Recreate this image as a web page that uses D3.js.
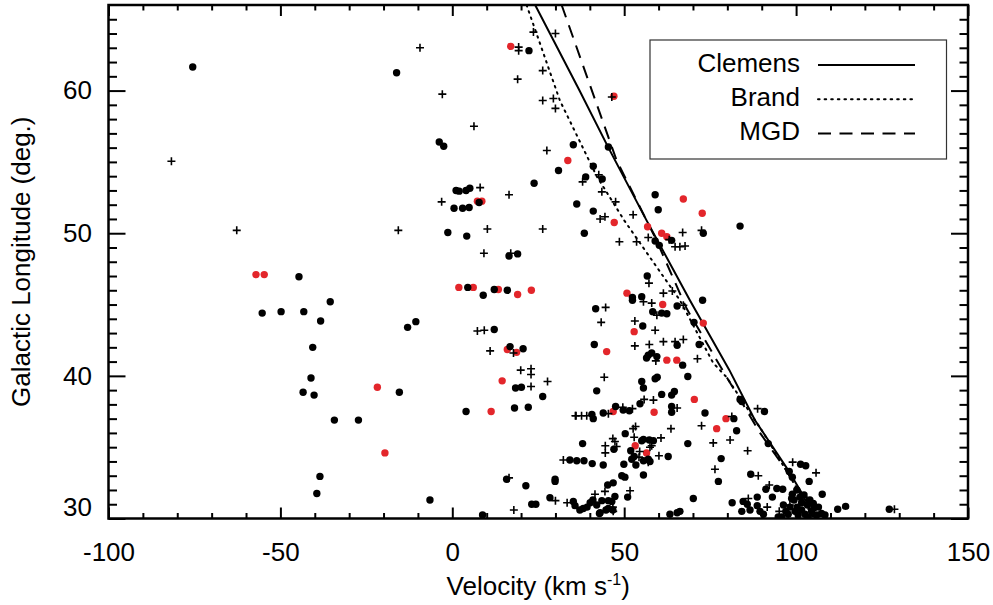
<!DOCTYPE html>
<html lang="en">
<head>
    <meta charset="UTF-8">
    <title>Velocity vs Galactic Longitude</title>
    <style>
        body {
            margin: 0;
            background: #fff;
        }
        svg text {
            font-family: "Liberation Sans", Arial, sans-serif;
            fill: #000;
        }
        .axis text {
            font-size: 26px;
        }
        .axis line {
            stroke: #000;
            stroke-width: 2;
        }
        .axis path {
            display: none;
        }
    </style>
</head>
<body>
    <div id="chart"></div>

    <script src="https://d3js.org/d3.v7.min.js"></script>
    <script>
        // axis ticks
        const xMajor = [-100, -50, 0, 50, 100, 150];
        const xMinor = d3.range(-90, 150, 10).filter(v => v % 50 !== 0);
        const yMajor = [30, 40, 50, 60];
        const yMinor = d3.range(31, 66, 1).filter(v => v % 10 !== 0);

        // clouds: [velocity, longitude]
        const blackPts = [
            [-75.5,61.65],[-44.6,46.95],[-55.3,44.4],[-49.8,44.5],[-43.2,44.5],[-38.3,43.85],[-40.6,42.0],[-41.1,39.85],[-43.4,38.85],[-40.2,38.65],[-38.5,32.95],[-39.4,31.75],[-35.5,45.2],
            [-16.2,61.25],[-3.8,56.4],[-2.5,56.1],[22.3,62.8],[35.2,56.2],[45.4,56.05],[30.9,54.4],[41.0,54.7],[38.8,53.95],[43.6,53.8],[23.8,53.5],
            [1.1,53.0],[2.0,52.95],[4.0,53.0],[5.1,53.15],[0.5,51.75],[3.0,51.75],[4.9,51.8],[7.8,52.15],[36.2,52.05],[41.0,51.55],[38.4,50.0],[-1.3,50.05],[4.2,49.8],[16.5,48.4],[19.0,48.55],[56.7,47.0],[59.0,52.7],[59.9,51.65],
            [4.5,46.2],[9.0,45.65],[12.2,46.05],[16.0,46.0],[52.4,45.5],[55.1,45.55],[12.2,43.25],[16.8,42.05],[20.6,41.9],[18.4,39.15],[20.1,39.2],[26.3,38.55],[4.0,37.5],[18.1,37.75],[22.1,37.8],
            [-13.0,43.4],[-10.6,43.8],[-34.3,36.9],[-27.3,36.9],[-15.4,38.85],[-6.5,31.3],[8.8,30.25],
            [15.8,32.75],[21.4,32.3],[23.1,31.0],[24.3,31.0],[29.9,32.75],[29.9,32.6],[28.4,31.45],[35.2,31.2],[35.7,30.9],[37.1,30.6],[38.1,30.7],[39.2,30.8],[40.1,31.1],[40.9,31.3],[42.0,30.95],[43.5,31.25],[45.4,31.25],[42.8,30.35],[44.7,30.6],[46.7,30.6],[45.4,30.7],[46.4,31.2],[47.3,31.55],[43.0,30.4],[66.2,30.5],
            [41.7,44.7],[41.3,42.2],[42.0,38.95],[52.4,45.3],[55.4,43.5],[58.3,44.5],[56.5,41.25],[58.0,41.6],[55.1,39.6],[55.6,39.15],[59.0,39.8],[54.6,38.05],[49.7,37.6],[47.5,37.85],[43.9,37.4],[40.6,37.3],[41.0,37.0],[50.3,35.95],[55.6,35.55],[37.9,35.25],[47.0,34.85],
            [34.2,34.1],[36.2,34.05],[38.3,34.05],[40.7,33.85],[43.9,33.75],[49.9,33.8],[52.9,34.35],[55.6,33.05],[49.3,33.0],[50.2,32.9],[46.8,32.5],[45.2,32.35],[51.0,31.5],[57.5,34.0],
            [59.6,39.9],[68.5,39.95],[60.9,38.7],[63.8,38.65],[64.6,38.9],[51.5,37.55],[63.8,37.85],[63.8,37.45],[73.5,37.4],[82.7,36.15],[57.3,35.5],[58.5,35.45],[55.1,35.45],[68.5,35.25],[51.9,34.75],[62.8,34.35],[52.2,34.15],[53.4,33.75],[55.6,34.05],[57.0,34.15],[78.2,34.2],[77.4,32.6],[70.1,31.4],[81.4,31.1],[63.3,30.3],[65.4,30.4],
            [83.7,50.5],[73.0,50.0],[63.8,49.5],[59.0,49.45],[60.2,49.15],[72.8,45.3],[65.4,44.9],[60.9,44.4],[62.4,44.35],[70.3,43.75],[65.4,42.15],[71.8,42.2],[67.0,40.75],[81.9,37.0],[83.7,38.35],[84.2,38.2],[90.8,37.5],[91.9,35.25],[86.8,33.1],[101.3,33.8],[102.8,33.7],[98.0,33.3],[98.9,32.9],[103.8,32.6],[107.6,31.7],[112.1,30.65],[114.4,30.85],[127.1,30.65],
            [91.2,32.05],[94.4,32.1],[96.1,32.05],[93.1,31.5],[88.7,31.5],[84.6,31.2],[85.8,31.0],[84.2,30.5],[86.6,30.6],[88.7,30.9],[89.5,30.5],[90.5,30.3],[94.8,30.1],[96.3,30.95],[100.2,32.0],
            [101.1,31.5],[98.7,31.4],[104.0,31.3],[105.0,31.05],[106.5,30.8],[107.4,30.35],[103.3,30.95],[101.6,30.6],[99.7,30.5],[98.2,30.8],[97.7,30.3],[100.6,30.25],[102.6,30.3],[104.5,30.5],[106.0,30.25],[103.5,30.1],[95.8,30.1],[99.4,31.3],[102.3,31.65],[100.3,30.8],[105.2,30.75],[101.6,31.1],[108.4,30.25],[98.9,31.7],[97.0,30.5],[57.0,41.45],[59.5,41.35]
        ];

        const redPts = [
            [-57.1,47.1],[-54.7,47.1],[-21.8,39.2],[-19.6,34.6],[17.0,63.1],[47.0,59.6],[33.6,55.1],[7.3,52.25],[8.6,52.25],[47.1,50.75],[56.8,50.45],
            [1.9,46.2],[6.1,46.2],[13.4,46.05],[19.0,45.7],[23.0,46.0],[50.8,45.8],[16.0,41.85],[18.7,41.65],[14.5,39.65],[11.3,37.5],[44.9,41.7],[52.9,43.1],
            [46.8,37.5],[53.2,35.1],[56.5,34.6],[67.2,52.4],[72.7,51.4],[60.9,50.0],[62.4,49.75],[61.2,45.0],[73.0,43.7],[62.4,41.1],[65.3,41.1],[58.7,37.45],[70.4,38.35],[79.6,37.0],[76.9,36.3]
        ];

        const crossPts = [
            [-81.7,55.05],[-62.7,50.2],[-9.4,63.0],[-2.9,59.75],[6.3,57.5],[19.3,63.05],[19.3,62.8],[23.6,64.1],[30.0,64.0],[19.0,60.8],[26.3,61.4],[26.3,59.3],[29.4,59.45],[30.0,58.75],[46.4,59.55],[27.5,55.8],[37.9,53.6],[42.6,54.1],[43.5,52.9],[16.5,52.7],[8.1,53.2],[-3.1,52.2],[47.5,52.2],[43.0,51.0],[44.4,51.15],[52.6,51.3],[26.3,50.3],[-15.7,50.2],[10.2,50.3],[9.2,48.6],[17.0,48.6],[57.2,46.5],[57.0,49.7],[53.6,49.4],[48.6,49.4],
            [7.3,43.15],[9.3,43.2],[11.0,41.75],[17.8,41.6],[19.9,40.4],[22.9,40.5],[22.9,40.1],[22.9,39.25],[27.7,39.6],[35.8,37.2],[16.5,32.85],[17.9,30.6],[30.0,31.25],[33.4,31.1],[41.5,31.7],[46.7,30.8],[46.8,30.5],
            [44.6,44.8],[43.3,43.75],[44.2,39.9],[53.1,43.85],[53.1,42.1],[57.3,42.2],[55.6,45.2],[58.0,45.1],[55.8,38.35],[58.5,38.3],[52.4,37.7],[49.6,37.8],[45.4,37.35],[39.1,37.2],[37.6,37.2],[36.0,37.2],[52.9,35.7],[44.5,35.1],[47.3,35.4],[44.5,34.6],[32.3,34.1],[44.4,31.9],[51.7,31.95],[52.6,36.3],[58.0,35.1],
            [72.5,50.2],[67.0,50.05],[63.1,49.55],[64.8,49.05],[66.2,49.05],[67.7,49.1],[61.4,45.8],[64.0,45.95],[67.2,44.95],[61.4,42.4],[64.8,42.4],[67.2,42.55],[71.3,41.2],[59.2,41.05],[65.4,37.75],[81.3,37.15],[72.5,36.5],[63.6,36.3],[53.3,36.45],[46.7,35.6],[47.8,35.05],[60.7,35.65],[75.9,35.3],[80.8,35.5],[60.1,34.4],[57.0,33.95],[76.4,33.45],
            [88.8,37.7],[85.9,34.75],[89.0,33.0],[99.0,33.95],[105.8,33.2],[92.2,32.35],[86.1,31.4],[91.6,30.8],[95.1,30.5],[128.6,30.65],[59.5,44.25],[59.0,43.2],[54.5,34.7],[57.5,35.0],[54.3,34.3],[103.1,31.3],[98.2,30.95]
        ];

        // rotation curve models: [longitude, velocity]
        const clemens = [[66,24.1],[60,37.0],[56,45.4],[50.9,56.5],[45.3,69.1],[40.4,80.6],[36.9,88.0],[33.5,97.4],[31.8,101.6],[30,105.5]];
        const brand = [[66,21.6],[59.3,31.3],[54,42.0],[50.9,50.0],[45.3,66.2],[40.9,75.9],[39.9,79.8],[36.0,90.5],[33.5,96.8],[31.8,101.0],[30,105.0]];
        const mgd = [[66,31.8],[55.1,47.8],[49.6,59.2],[44.7,68.2],[40.4,78.6],[36.0,89.5],[33.5,96.8],[31.8,101.3],[30,105.2]];

        const legendItems = [
            { name: "Clemens", data: clemens, dash: null },
            { name: "Brand", data: brand, dash: "1.6,5" },
            { name: "MGD", data: mgd, dash: "13,8.5" }
        ];

        const W = 993, H = 605;
        const pLeft = 108.5, pRight = 968, pTop = 5, pBottom = 518.5;

        const svg = d3.select("#chart").append("svg")
            .attr("width", W)
            .attr("height", H);

        const x = d3.scaleLinear().domain([-100, 150]).range([pLeft, pRight]);
        const y = d3.scaleLinear().domain([30, 66]).range([pBottom, pTop]);

        svg.append("clipPath").attr("id", "plot")
            .append("rect")
            .attr("x", pLeft).attr("y", pTop)
            .attr("width", pRight - pLeft).attr("height", pBottom - pTop);

        const plot = svg.append("g").attr("clip-path", "url(#plot)");

        // model lines
        const line = d3.line().x(d => x(d[1])).y(d => y(d[0]));
        legendItems.forEach(it => {
            plot.append("path")
                .datum(it.data)
                .attr("d", line)
                .attr("fill", "none")
                .attr("stroke", "#000")
                .attr("stroke-width", it.dash === "1.6,5" ? 2 : 2)
                .attr("stroke-linecap", it.dash === "1.6,5" ? "round" : "butt")
                .attr("stroke-dasharray", it.dash);
        });

        // red, black, then crosses on top
        plot.selectAll(".red").data(redPts).enter().append("circle")
            .attr("cx", d => x(d[0])).attr("cy", d => y(d[1]))
            .attr("r", 3.7).attr("fill", "#e3262b");

        plot.selectAll(".blk").data(blackPts).enter().append("circle")
            .attr("cx", d => x(d[0])).attr("cy", d => y(d[1]))
            .attr("r", 3.7).attr("fill", "#000");

        plot.selectAll(".cross").data(crossPts).enter().append("path")
            .attr("d", d => {
                const cx = x(d[0]), cy = y(d[1]), s = 4;
                return `M${cx - s},${cy}H${cx + s}M${cx},${cy - s}V${cy + s}`;
            })
            .attr("stroke", "#000").attr("stroke-width", 1.6);

        // axes: major and minor ticks on all four sides, pointing inward
        function ticks(axis, vals, size, pos, labels) {
            const g = svg.append("g").attr("class", "axis")
                .attr("transform", pos)
                .call(axis.tickValues(vals)
                    .tickFormat(d => String(d))   // plain hyphen, as in the original
                    .tickSize(-size)
                    .tickPadding(labels ? labels : 0));
            if (!labels) g.selectAll("text").remove();
            return g;
        }

        ticks(d3.axisBottom(x), xMajor, 11, `translate(0,${pBottom})`, 24);
        ticks(d3.axisBottom(x), xMinor, 5.5, `translate(0,${pBottom})`);
        ticks(d3.axisTop(x), xMajor, 11, `translate(0,${pTop})`);
        ticks(d3.axisTop(x), xMinor, 5.5, `translate(0,${pTop})`);

        const yl = ticks(d3.axisLeft(y), yMajor, 17, `translate(${pLeft},0)`, 16.5);
        ticks(d3.axisLeft(y), yMinor, 8.5, `translate(${pLeft},0)`);
        ticks(d3.axisRight(y), yMajor, 17, `translate(${pRight},0)`);
        ticks(d3.axisRight(y), yMinor, 8.5, `translate(${pRight},0)`);

        // the bottom label sits a little above its tick
        yl.selectAll("text").filter(d => d === 30).attr("transform", "translate(0,-11)");

        svg.append("rect")
            .attr("x", pLeft).attr("y", pTop)
            .attr("width", pRight - pLeft).attr("height", pBottom - pTop)
            .attr("fill", "none").attr("stroke", "#000").attr("stroke-width", 2.5);

        // axis titles
        const xt = svg.append("text")
            .attr("x", (pLeft + pRight) / 2)
            .attr("y", 595)
            .attr("text-anchor", "middle")
            .style("font-size", "26px");
        xt.append("tspan").text("Velocity (km s");
        xt.append("tspan").attr("dy", -10).style("font-size", "16px").text("-1");
        xt.append("tspan").attr("dy", 10).text(")");

        svg.append("text")
            .attr("transform", `translate(29.5,${(pTop + pBottom) / 2}) rotate(-90)`)
            .attr("text-anchor", "middle")
            .style("font-size", "26px")
            .text("Galactic Longitude (deg.)");

        // legend
        const lg = svg.append("g");
        lg.append("rect")
            .attr("x", 650).attr("y", 40)
            .attr("width", 296.5).attr("height", 119)
            .attr("fill", "#fff").attr("stroke", "#333").attr("stroke-width", 1.2);

        legendItems.forEach((it, i) => {
            const yy = 65 + i * 34.2;
            lg.append("text")
                .attr("x", 800).attr("y", yy + 7)
                .attr("text-anchor", "end")
                .style("font-size", "26px")
                .text(it.name);
            lg.append("line")
                .attr("x1", 818).attr("x2", 915)
                .attr("y1", yy).attr("y2", yy)
                .attr("stroke", "#000")
                .attr("stroke-width", 2)
                .attr("stroke-linecap", it.dash === "1.6,5" ? "round" : "butt")
                .attr("stroke-dasharray", it.dash);
        });
    </script>
</body>
</html>
